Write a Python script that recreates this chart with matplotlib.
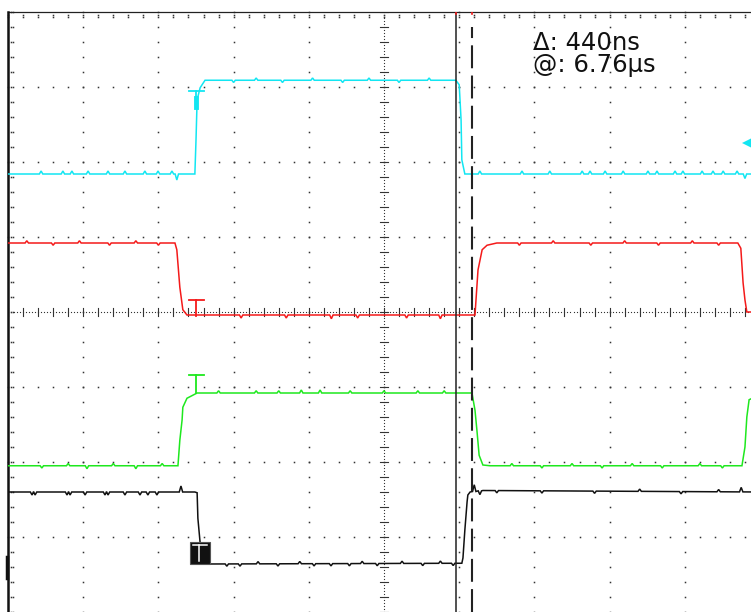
import matplotlib.pyplot as plt
import numpy as np

# scope screen: 2 us/div horizontally, 8 vertical divisions (y in div, 0 = centre)
# trace corner points (time in us, level in div)
cyan_t = [0, 4.97, 5.00, 5.03, 5.11, 5.24, 11.91, 12.00, 12.05, 12.07, 12.15, 20]
cyan_y = [1.84, 1.84, 2.29, 2.83, 2.99, 3.09, 3.09, 3.03, 2.56, 2.03, 1.84, 1.84]

red_t = [0, 4.44, 4.49, 4.57, 4.65, 4.76, 12.42, 12.50, 12.61, 12.74, 13.00,
         19.41, 19.49, 19.55, 19.60, 19.65, 20]
red_y = [0.92, 0.92, 0.83, 0.33, 0.03, -0.04, -0.04, 0.56, 0.83, 0.89, 0.92,
         0.92, 0.85, 0.39, 0.16, 0.0, 0.0]

green_t = [0, 4.52, 4.57, 4.63, 4.65, 4.76, 5.03, 12.34, 12.42, 12.47, 12.53,
           12.63, 12.82, 19.52, 19.60, 19.65, 19.71, 20]
green_y = [-2.05, -2.05, -1.71, -1.44, -1.27, -1.15, -1.08, -1.08, -1.31, -1.57,
           -1.91, -2.04, -2.05, -2.05, -1.80, -1.40, -1.17, -1.10]

black_t = [0, 4.97, 5.03, 5.05, 5.11, 5.16, 5.29, 12.07, 12.10, 12.15, 12.21,
           12.23, 12.29, 12.63, 20]
black_y = [-2.40, -2.40, -2.41, -2.75, -3.08, -3.35, -3.36, -3.35, -3.28, -2.91,
           -2.53, -2.44, -2.40, -2.38, -2.40]

# small noise blips (time us, offset div)
cyan_blips = [(0.88, .04), (1.46, .04), (1.70, .04), (2.13, .04), (2.66, .04),
              (3.11, .04), (3.64, .04), (3.99, .04), (4.36, .04), (4.49, -.08),
              (6.0, -.03), (6.6, .03), (7.3, -.03), (8.1, .03), (8.9, -.03),
              (9.6, .03), (10.4, -.03), (11.2, .03),
              (12.55, .04), (13.67, .04), (14.41, .04), (15.27, .04), (15.48, .04),
              (15.88, .04), (16.36, .04), (17.02, .04), (17.26, .04), (17.74, .04),
              (17.95, .04), (18.46, .04), (18.75, .04), (19.02, .04), (19.39, .04),
              (19.60, -.06)]
red_blips = [(0.5, .03), (1.2, -.03), (1.9, .03), (2.7, -.03), (3.4, .03), (4.0, -.03),
             (6.2, -.04), (7.4, -.04), (8.6, -.05), (9.3, -.04), (10.6, -.04), (11.5, -.05),
             (13.6, -.03), (14.5, .03), (15.5, -.03), (16.4, .03), (17.3, -.03),
             (18.2, .03), (18.9, -.03)]
green_blips = [(0.9, -.03), (1.6, .03), (2.1, -.04), (2.8, .03), (3.4, -.04), (4.1, .03),
               (5.6, .03), (6.6, .03), (7.2, .03), (7.8, .04), (8.3, .04), (9.1, .03),
               (10.0, .03), (10.9, .03), (11.6, .03),
               (13.4, .03), (14.2, -.03), (15.0, .03), (15.8, -.03), (16.6, .03),
               (17.4, -.03), (18.4, .03), (19.0, -.03)]
black_blips = [(0.64, -.04), (0.72, -.04), (1.57, -.04), (1.65, -.04), (2.05, -.04),
               (2.58, -.04), (2.66, -.04), (3.11, -.04), (3.51, -.04), (3.72, -.04),
               (3.96, -.04), (4.60, .08),
               (5.82, -.03), (6.17, -.03), (6.65, .03), (7.18, -.03), (7.76, .03),
               (8.14, -.03), (8.59, -.03), (9.08, -.03), (9.42, .03), (9.82, -.03),
               (10.48, .03), (11.03, -.03), (11.50, .03), (11.84, -.03),
               (12.40, .09), (12.55, -.05), (13.0, -.03), (14.2, -.03), (15.6, -.03),
               (16.8, .03), (17.9, -.03), (18.9, .03), (19.5, .06)]

delta_text = "\u0394: 440ns"
at_text = "@: 6.76\u00b5s"

CYAN = '#12e6f2'
RED = '#f41a1a'
GREEN = '#1ee81e'
BLACK = '#111111'
DOT = '#333333'

PX_X = 2 / 75.2   # us per pixel
PX_Y = 1 / 75.0   # div per pixel


def build(ts, ys, blips, w=0.045):
    t = list(ts)
    y = list(ys)
    for tb, dy in blips:
        base = np.interp(tb, ts, ys)
        t += [tb - w, tb, tb + w]
        y += [base, base + dy, base]
    order = np.argsort(t, kind='stable')
    return np.array(t)[order], np.array(y)[order]


fig = plt.figure(figsize=(7.51, 6.12), dpi=100)
ax = fig.add_axes([8 / 751, 0, 752 / 751, 600 / 612])
ax.set_xlim(0, 20)
ax.set_ylim(-4, 4)
ax.axis('off')

# graticule
dot = dict(ls='none', marker='s', ms=1.1, mew=0, color=DOT, clip_on=False, zorder=1)
gx = np.arange(0, 20.01, 0.4)
gy = np.arange(-4, 4.01, 0.2)
for xv in np.arange(2, 19, 2):
    if xv == 10:
        continue
    ax.plot(np.full_like(gy, xv), gy, **dot)
for yv in np.arange(-4, 4, 1):
    if yv == 0:
        continue
    ax.plot(gx, np.full_like(gx, yv - (0.03 if yv == -4 else 0)), **dot)

# centre cross with fine dots and tick marks
fx = np.arange(0, 20.01, 0.08)
fy = np.arange(-4, 4.01, 0.04)
ax.plot(fx, np.zeros_like(fx), ls='none', marker='s', ms=0.8, mew=0, color=DOT, zorder=1)
ax.plot(np.full_like(fy, 10), fy, ls='none', marker='s', ms=0.8, mew=0, color=DOT, zorder=1)
for xv in gx:
    ax.plot([xv, xv], [-0.05, 0.05], color=DOT, lw=0.8, zorder=1)
for yv in gy:
    ax.plot([10 - 0.1, 10 + 0.1], [yv, yv], color=DOT, lw=0.8, zorder=1)

# frame with edge ticks
ax.plot([0, 20], [4, 4], color='#222222', lw=0.9, clip_on=False, zorder=2)
ax.plot([0, 0], [-4, 4], color='#111111', lw=1.8, clip_on=False, zorder=2)
ax.plot(gx, np.full_like(gx, 4 - 3 * PX_Y), **dot)
ax.plot(gx, np.full_like(gx, 4 - 5 * PX_Y), **dot)
ax.plot(np.full_like(gy, 3 * PX_X), gy, **dot)
ax.plot(np.full_like(gy, 5 * PX_X), gy, **dot)

# traces
for ts, ys, bl, c in [(cyan_t, cyan_y, cyan_blips, CYAN),
                      (red_t, red_y, red_blips, RED),
                      (green_t, green_y, green_blips, GREEN),
                      (black_t, black_y, black_blips, BLACK)]:
    t, y = build(ts, ys, bl)
    ax.plot(t, y, color=c, lw=1.1, zorder=3, solid_joinstyle='miter')

# trigger "T" markers
tx = (196 - 8) * PX_X
hw = 7.5 * PX_X
for c, top, bot in [(CYAN, 2.95, 2.73), (RED, 0.16, -0.05), (GREEN, -0.84, -1.08)]:
    ax.plot([tx - hw, tx + hw], [top, top], color=c, lw=1.3, zorder=4)
    ax.plot([tx, tx], [top, bot], color=c, lw=1.3, zorder=4)
ax.plot([tx, tx], [2.73, 2.85], color=CYAN, lw=3.5, zorder=4)
ax.add_patch(plt.Rectangle(((190 - 8) * PX_X, (312 - 564) * PX_Y), 20 * PX_X, 22 * PX_Y,
                           facecolor=BLACK, edgecolor='#555555', lw=0.8, zorder=5))
t_top = (312 - 545) * PX_Y
ax.plot([(193 - 8) * PX_X, (207 - 8) * PX_X], [t_top, t_top], color='white', lw=1.1, zorder=6)
ax.plot([(199 - 8) * PX_X] * 2, [t_top, (312 - 561) * PX_Y], color='white', lw=1.1, zorder=6)

# channel ground markers
ax.plot([-1 * PX_X] * 2, [-3.26, -3.55], color=BLACK, lw=2.5, clip_on=False, zorder=5)
ax.plot([(748 - 8) * PX_X], [(312 - 143) * PX_Y], marker='<', ms=8.5, mew=0,
        color=CYAN, clip_on=False, zorder=5)

# cursors
c1 = (456 - 8) * PX_X
c2 = (472 - 8) * PX_X
ax.plot([c1, c1], [-4, 4], color='#222222', lw=1.1, zorder=4)
ax.plot([c2, c2], [-4, 3.8], color='#222222', lw=1.5, dashes=(11, 3.5), zorder=4)
ax.plot([c1, c1], [3.97, 4], color=RED, lw=1.2, zorder=5)
ax.plot([c2, c2], [3.97, 4], color=RED, lw=1.2, zorder=5)

fig.text(533 / 751, 1 - 50 / 612, delta_text, fontsize=17.5, color=BLACK, va='baseline')
fig.text(533 / 751, 1 - 72 / 612, at_text, fontsize=17.5, color=BLACK, va='baseline')

fig.savefig('out.png', dpi=100, facecolor='white')
